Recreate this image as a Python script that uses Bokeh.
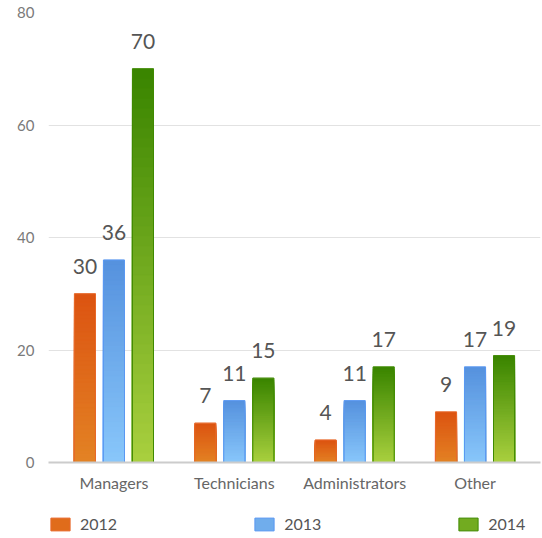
from bokeh.plotting import figure
from bokeh.layouts import column
from bokeh.models import ColumnDataSource, FactorRange, Legend, LegendItem, LabelSet
from bokeh.transform import dodge
from bokeh.core.properties import value
from bokeh.embed import file_html
from bokeh.resources import INLINE

# ---- data ----
categories = ["Managers", "Technicians", "Administrators", "Other"]
years = ["2012", "2013", "2014"]
v2012 = [30, 7, 4, 9]
v2013 = [36, 11, 11, 17]
v2014 = [70, 15, 17, 19]
y_ticks = [0, 20, 40, 60, 80]

# ---- style ----
FONT = "Lato"
top_colors = [(220, 84, 18), (86, 146, 222), (58, 133, 0)]
bottom_colors = [(227, 130, 36), (136, 198, 250), (168, 207, 62)]
border_colors = ["#e8692a", "#5a98f2", "#3f8a00"]
offsets = [-0.241, 0.0, 0.241]
BAR_W = 0.175
N_LAYERS = 40


def mix(c1, c2, t):
    r, g, b = (round(a + (b_ - a) * t) for a, b_ in zip(c1, c2))
    return "#%02x%02x%02x" % (r, g, b)


p = figure(
    x_range=FactorRange(*categories, range_padding=0.022),
    y_range=(0, 80),
    width=542, height=498,
    output_backend="svg", toolbar_location=None,
    min_border_left=48, min_border_right=2, min_border_top=12, min_border_bottom=36,
)
p.outline_line_color = None

# small companion figure that only carries the legend
pl = figure(
    x_range=FactorRange(*categories), y_range=(0, 80),
    width=542, height=40, output_backend="svg", toolbar_location=None,
    x_axis_type=None, y_axis_type=None, min_border=0,
)
pl.outline_line_color = None
pl.xgrid.grid_line_color = None
pl.ygrid.grid_line_color = None

legend_items = []
for s, vals in enumerate([v2012, v2013, v2014]):
    # gradient: layered bars drawn tallest first, each derived from the value
    xs, tops, cols = [], [], []
    for k in range(N_LAYERS):
        frac = 1 - k / N_LAYERS
        col = mix(top_colors[s], bottom_colors[s], k / (N_LAYERS - 1))
        for c, v in zip(categories, vals):
            xs.append(c)
            tops.append(v * frac)
            cols.append(col)
    lsrc = ColumnDataSource(dict(cat=xs, top=tops, color=cols))
    p.vbar(x=dodge("cat", offsets[s], range=p.x_range), top="top", bottom=0,
           width=BAR_W, source=lsrc, fill_color="color", line_color="color",
           line_width=0.5)
    src = ColumnDataSource(dict(cat=categories, val=vals, label=[str(v) for v in vals]))
    p.vbar(x=dodge("cat", offsets[s], range=p.x_range), top="val", bottom=0,
           width=BAR_W, source=src, fill_color=None, line_color=border_colors[s],
           line_width=1)
    labels = LabelSet(x=dodge("cat", offsets[s], range=p.x_range), y="val", text="label",
                      source=src, text_align="center", text_baseline="alphabetic",
                      y_offset=20, text_font=value(FONT), text_font_size="21px",
                      text_color="#555555")
    p.add_layout(labels)
    # hidden renderer in the legend figure, used only for the legend swatch
    rl = pl.vbar(x=dodge("cat", offsets[s], range=pl.x_range), top="top", bottom=0,
                 width=BAR_W, source=lsrc, fill_color="color",
                 line_color=border_colors[s], line_width=1, visible=False)
    legend_items.append(LegendItem(label=years[s], renderers=[rl],
                                   index=(N_LAYERS // 2) * len(categories)))

# axes
p.xgrid.grid_line_color = None
p.ygrid.grid_line_color = "#e2e2e2"
p.ygrid.grid_line_width = 1
p.yaxis.ticker = y_ticks
p.yaxis.axis_line_color = None
p.yaxis.major_tick_line_color = None
p.yaxis.minor_tick_line_color = None
p.yaxis.major_tick_out = 0
p.yaxis.major_label_standoff = 14
p.yaxis.major_label_text_font = FONT
p.yaxis.major_label_text_font_size = "15px"
p.yaxis.major_label_text_color = "#7a7a7a"

p.xaxis.axis_line_color = "#cccccc"
p.xaxis.axis_line_width = 2
p.xaxis.major_tick_line_color = None
p.xaxis.minor_tick_line_color = None
p.xaxis.major_tick_out = 0
p.xaxis.major_label_standoff = 10
p.xaxis.major_label_text_font = FONT
p.xaxis.major_label_text_font_size = "16px"
p.xaxis.major_label_text_color = "#666666"

legend = Legend(items=legend_items, orientation="horizontal", location=(0, 5),
                glyph_width=24, glyph_height=16, label_standoff=8, spacing=135,
                padding=0, margin=0, border_line_color=None, background_fill_alpha=0,
                label_text_font=FONT, label_text_font_size="16px",
                label_text_color="#555555")
pl.add_layout(legend)

open("out.html", "w").write(file_html(column(p, pl, spacing=0), INLINE))
